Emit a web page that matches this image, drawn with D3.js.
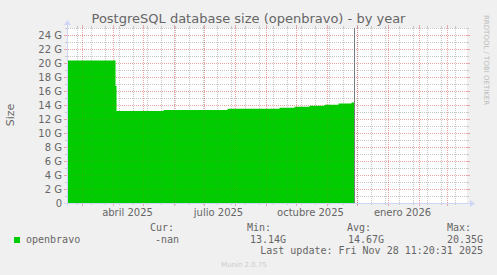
<!DOCTYPE html>
<html><head><meta charset="utf-8">
<script src="https://cdn.jsdelivr.net/npm/d3@7"></script>
<style>
html,body{margin:0;padding:0;background:#F0F0F0;}
svg{display:block;}
text{font-family:"DejaVu Sans",sans-serif;}
.mono{font-family:"DejaVu Sans Mono",monospace;}
</style></head>
<body>
<script>
// ---- data ----
const title = "PostgreSQL database size (openbravo) - by year";
const yAxisLabel = "Size";
const seriesName = "openbravo";
const levelDates = ["2025-02-14T11:20","2025-04-03","2025-04-04","2025-04-05","2025-05-22","2025-07-25","2025-09-15","2025-09-30","2025-10-15","2025-10-30","2025-11-13","2025-11-26","2025-11-28T11:20"];
const levelValues = [20.35, 20.35, 16.7, 13.14, 13.3, 13.45, 13.6, 13.75, 13.9, 14.05, 14.2, 14.35, 14.35];
const yTicks = [0,2,4,6,8,10,12,14,16,18,20,22,24];
const xLabels = ["abril 2025","julio 2025","octubre 2025","enero 2026"];
const xLabelMonths = ["2025-04-01","2025-07-01","2025-10-01","2026-01-01"];
const legendHeaders = ["Cur:","Min:","Avg:","Max:"];
const legendValues = ["-nan","13.14G","14.67G","20.35G"];
const lastUpdate = "Last update: Fri Nov 28 11:20:31 2025";
const nowDate = "2025-11-28T11:20";
const domainStart = "2025-02-14T11:20", domainEnd = "2026-03-21T11:20";
const yMax = 25;

const W = 497, H = 275;
const X0 = 67, X1 = 467, Y0 = 203, Y1 = 28;
const pd = s => new Date(s + (s.length > 10 ? ":00Z" : "T00:00:00Z"));

const svg = d3.select("body").append("svg").attr("width", W).attr("height", H);
svg.append("rect").attr("width", W).attr("height", H).attr("fill", "#F0F0F0");

const x = d3.scaleUtc().domain([pd(domainStart), pd(domainEnd)]).range([X0, X1]);
const y = d3.scaleLinear().domain([0, yMax]).range([Y0, Y1]);

// canvas
svg.append("rect").attr("x", X0).attr("y", Y1).attr("width", X1 - X0).attr("height", Y0 - Y1).attr("fill", "#fff");

const minorT = d3.utcMonday.every(1).range(pd(domainStart), pd(domainEnd)).filter(d => Math.round((d - pd("2025-02-24")) / 864e5) % 14 === 0);
const majorT = d3.utcMonth.range(pd(domainStart), pd(domainEnd));

function drawGrid(a, ticks) {
  const gridC = `rgba(140,140,140,${0.4 * a})`;
  const mgridC = `rgba(222,79,79,${0.45 * a})`;
  const g = svg.append("g").attr("shape-rendering", "crispEdges");
  d3.range(1, yMax + 1).forEach(v => {
    const major = yTicks.includes(v);
    const yy = Math.round(y(v)) + 0.5;
    const c = major ? mgridC : gridC;
    g.append("line").attr("x1", X0 + 1).attr("x2", X1).attr("y1", yy).attr("y2", yy)
      .attr("stroke", c).attr("stroke-dasharray", "1,1");
    if (ticks) {
      const t = major ? 3 : 2;
      g.append("line").attr("x1", X0 - t).attr("x2", X0).attr("y1", yy).attr("y2", yy).attr("stroke", c);
      g.append("line").attr("x1", X1).attr("x2", X1 + t).attr("y1", yy).attr("y2", yy).attr("stroke", c);
    }
  });
  function vline(d, c, t) {
    const xx = Math.round(x(d)) + 0.5;
    g.append("line").attr("x1", xx).attr("x2", xx).attr("y1", Y1).attr("y2", Y0)
      .attr("stroke", c).attr("stroke-dasharray", "1,1");
    if (ticks) {
      g.append("line").attr("x1", xx).attr("x2", xx).attr("y1", Y0).attr("y2", Y0 + t).attr("stroke", c);
      g.append("line").attr("x1", xx).attr("x2", xx).attr("y1", Y1 - t).attr("y2", Y1).attr("stroke", c);
    }
  }
  minorT.forEach(d => vline(d, gridC, 2));
  majorT.forEach(d => vline(d, mgridC, 3));
}
drawGrid(1, true);

// area
const pts = levelDates.map((d, i) => ({d: pd(d), v: levelValues[i]}));
const area = d3.area().x(p => x(p.d)).y0(y(0)).y1(p => y(p.v)).curve(d3.curveStepAfter);
svg.append("path").datum(pts).attr("d", area).attr("fill", "#00CC00");

// faint grid over the area
drawGrid(0.3, false);

const g2 = svg.append("g").attr("shape-rendering", "crispEdges");
// now line
const nx = Math.round(x(pd(nowDate))) + 0.5;
g2.append("line").attr("x1", nx).attr("x2", nx).attr("y1", Y1).attr("y2", Y0).attr("stroke", "#7a7a7a");

// axes
const axC = "#CFD6F8";
g2.append("line").attr("x1", X0 - 3).attr("x2", X1 + 4).attr("y1", Y0 + 0.5).attr("y2", Y0 + 0.5).attr("stroke", axC);
g2.append("line").attr("x1", X0 + 0.5).attr("x2", X0 + 0.5).attr("y1", Y0 + 3).attr("y2", Y1 - 4).attr("stroke", axC);
svg.append("path").attr("d", `M${X1 + 3},${Y0 - 3} L${X1 + 8},${Y0 + 0.5} L${X1 + 3},${Y0 + 4} Z`).attr("fill", axC);
svg.append("path").attr("d", `M${X0 - 3},${Y1 - 3} L${X0 + 0.5},${Y1 - 8} L${X0 + 4},${Y1 - 3} Z`).attr("fill", axC);

const fc = "#666666";
// y tick labels
yTicks.forEach(v => {
  svg.append("text").attr("x", 62).attr("y", y(v)).attr("dy", "0.36em")
    .attr("text-anchor", "end").attr("font-size", 10).attr("fill", fc)
    .text(v === 0 ? "0" : v + " G");
});
// x labels (centered mid-month)
xLabelMonths.forEach((m, i) => {
  const d = d3.utcDay.offset(pd(m), 15);
  svg.append("text").attr("x", x(d)).attr("y", 216).attr("text-anchor", "middle")
    .attr("font-size", 10).attr("fill", fc).text(xLabels[i]);
});
// title
svg.append("text").attr("x", 248.5).attr("y", 23).attr("text-anchor", "middle")
  .attr("font-size", 13).attr("fill", fc).text(title);
// y label
svg.append("text").attr("transform", "translate(14,115) rotate(-90)").attr("text-anchor", "middle")
  .attr("font-size", 11).attr("fill", fc).text(yAxisLabel);
// rrdtool watermark
svg.append("text").attr("transform", "translate(484,15) rotate(90)").attr("text-anchor", "start")
  .attr("font-size", 7).attr("fill", "#bbbbbb").text("RRDTOOL / TOBI OETIKER");

// legend
const hx = [150, 247, 347, 447];
legendHeaders.forEach((h, i) => svg.append("text").attr("class", "mono").attr("x", hx[i]).attr("y", 231)
  .attr("font-size", 10).attr("fill", fc).text(h));
svg.append("rect").attr("x", 14).attr("y", 237).attr("width", 6).attr("height", 6).attr("fill", "#00CC00");
svg.append("text").attr("class", "mono").attr("x", 26).attr("y", 243).attr("font-size", 10).attr("fill", fc).text(seriesName);
const vx = [179, 286, 384, 483];
legendValues.forEach((v, i) => svg.append("text").attr("class", "mono").attr("x", vx[i]).attr("y", 243)
  .attr("text-anchor", "end").attr("font-size", 10).attr("fill", fc).text(v));
svg.append("text").attr("class", "mono").attr("x", 483).attr("y", 254).attr("text-anchor", "end")
  .attr("font-size", 10).attr("fill", fc).text(lastUpdate);
svg.append("text").attr("x", 244).attr("y", 267).attr("text-anchor", "middle")
  .attr("font-size", 7).attr("fill", "#cccccc").text("Munin 2.0.75");
</script>
</body></html>
